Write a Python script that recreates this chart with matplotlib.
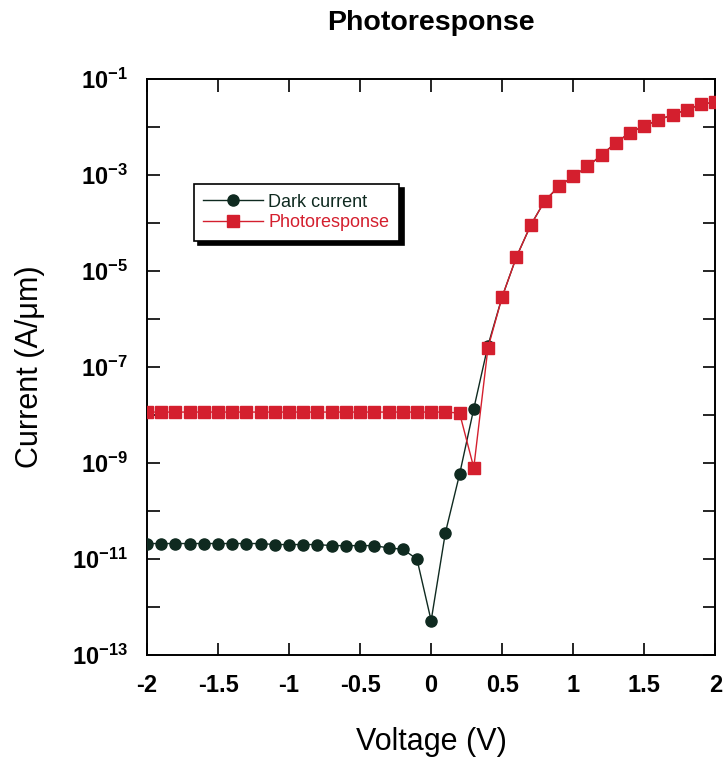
import numpy as np
import matplotlib
matplotlib.use("Agg")
import matplotlib.pyplot as plt
from matplotlib.ticker import LogLocator, FuncFormatter, MultipleLocator

plt.rcParams['font.family'] = ['Liberation Sans', 'DejaVu Sans']
plt.rcParams['mathtext.fontset'] = 'custom'
plt.rcParams['mathtext.rm'] = 'Liberation Sans'
plt.rcParams['mathtext.bf'] = 'Liberation Sans:bold'

voltage = [round(-2 + 0.1 * i, 1) for i in range(41)]

dark_current = [
    2.1e-11, 2.1e-11, 2.1e-11, 2.1e-11, 2.1e-11, 2.1e-11, 2.1e-11, 2.1e-11,
    2.1e-11, 2.0e-11, 2.0e-11, 2.0e-11, 2.0e-11, 1.9e-11, 1.9e-11, 1.9e-11,
    1.9e-11, 1.7e-11, 1.6e-11, 1.0e-11, 5.2e-13, 3.5e-11, 5.8e-10, 1.35e-8,
    2.8e-7, 2.9e-6, 1.95e-5, 8.9e-5, 2.9e-4, 5.8e-4, 9.3e-4, 1.5e-3,
    2.6e-3, 4.7e-3, 7.6e-3, 1.05e-2, 1.4e-2, 1.8e-2, 2.3e-2, 2.95e-2, 3.3e-2,
]

photoresponse = [
    1.15e-8, 1.15e-8, 1.15e-8, 1.15e-8, 1.15e-8, 1.15e-8, 1.15e-8, 1.15e-8,
    1.15e-8, 1.15e-8, 1.15e-8, 1.15e-8, 1.15e-8, 1.15e-8, 1.15e-8, 1.15e-8,
    1.15e-8, 1.15e-8, 1.15e-8, 1.15e-8, 1.15e-8, 1.15e-8, 1.1e-8, 8.0e-10,
    2.5e-7, 2.9e-6, 1.95e-5, 8.9e-5, 2.9e-4, 5.8e-4, 9.3e-4, 1.5e-3,
    2.6e-3, 4.7e-3, 7.6e-3, 1.05e-2, 1.4e-2, 1.8e-2, 2.3e-2, 2.95e-2, 3.3e-2,
]

dark_color = '#0f2a20'
red_color = '#d41f2e'

fig = plt.figure(figsize=(7.24, 7.59), dpi=100)
ax = fig.add_axes([0.203, 0.137, 0.785, 0.759])

ax.plot(voltage, dark_current, '-o', color=dark_color, lw=1.0,
        ms=8, mec=dark_color, mfc=dark_color, label='Dark current', zorder=3)
ax.plot(voltage, photoresponse, '-s', color=red_color, lw=1.0,
        ms=8.3, mec=red_color, mfc=red_color, label='Photoresponse', zorder=4)

ax.set_yscale('log')
ax.set_xlim(-2, 2)
ax.set_ylim(1e-13, 1e-1)

ax.xaxis.set_major_locator(MultipleLocator(0.5))
ax.xaxis.set_major_formatter(FuncFormatter(lambda v, p: f'{v:g}'))
ax.yaxis.set_major_locator(LogLocator(base=10, numticks=20))
ax.yaxis.set_minor_locator(LogLocator(base=10, subs=[], numticks=20))


def decade_label(v, pos):
    e = int(round(np.log10(v)))
    if e % 2 == 0:
        return ''
    return r'$\mathbf{10^{%d}}$' % e


ax.yaxis.set_major_formatter(FuncFormatter(decade_label))

ax.tick_params(axis='both', which='major', direction='in', length=9, width=1.2,
               top=True, right=True)
ax.tick_params(axis='x', pad=14, labelsize=17)
ax.tick_params(axis='y', pad=14, labelsize=17)
for lbl in ax.get_xticklabels():
    lbl.set_fontweight('bold')
for s in ax.spines.values():
    s.set_linewidth(1.4)

ax.set_xlabel('Voltage (V)', fontsize=22)
ax.set_ylabel('Current (A/\u03bcm)', fontsize=22)
ax.xaxis.set_label_coords(0.5, -0.125, transform=ax.transAxes)
ax.yaxis.set_label_coords(-0.18, 0.5, transform=ax.transAxes)
ax.set_title('Photoresponse', fontsize=20.5, fontweight='bold', pad=35)

leg = ax.legend(loc='upper left', bbox_to_anchor=(0.066, 0.834), fontsize=13,
                handlelength=3.3, frameon=True, fancybox=False, borderpad=0.55,
                labelspacing=0.2, handletextpad=0.3,
                shadow={'color': 'black', 'alpha': 1.0, 'ox': 3, 'oy': -3})
leg.get_frame().set_edgecolor('black')
leg.get_frame().set_linewidth(1.2)
leg.get_texts()[1].set_color(red_color)
leg.get_texts()[0].set_color(dark_color)

fig.savefig('out.png', dpi=100)
